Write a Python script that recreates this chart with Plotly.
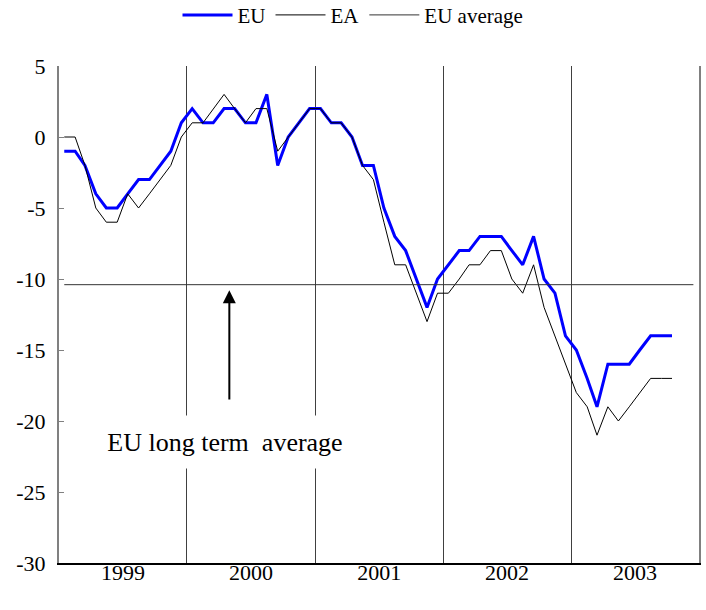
import plotly.graph_objects as go
import pandas as pd

# monthly balance values, Jan 1999 - Oct 2003
eu = [-1, -1, -2, -4, -5, -5, -4, -3, -3, -2, -1, 1,
      2, 1, 1, 2, 2, 1, 1, 3, -2, 0, 1, 2,
      2, 1, 1, 0, -2, -2, -5, -7, -8, -10, -12, -10,
      -9, -8, -8, -7, -7, -7, -8, -9, -7, -10, -11, -14,
      -15, -17, -19, -16, -16, -16, -15, -14, -14, -14]
ea = [0, 0, -2, -5, -6, -6, -4, -5, -4, -3, -2, 0,
      1, 1, 2, 3, 2, 1, 2, 2, -1, 0, 1, 2,
      2, 1, 1, 0, -2, -3, -6, -9, -9, -11, -13, -11,
      -11, -10, -9, -9, -8, -8, -10, -11, -9, -12, -14, -16,
      -18, -19, -21, -19, -20, -19, -18, -17, -17, -17]
eu_long_avg = -10.4
n_avg_months = 60

y_ticks = [5, 0, -5, -10, -15, -20, -25, -30]
y_tick_text = ["5", "0", "-5", "-10", "-15", "-20", "-25", "-30"]

months = pd.date_range("1999-01-01", periods=len(eu), freq="MS") + pd.Timedelta(days=15)
avg_months = pd.date_range("1999-01-01", periods=n_avg_months, freq="MS") + pd.Timedelta(days=15)
eu_average = [eu_long_avg] * n_avg_months

FONT = "Liberation Serif"

fig = go.Figure()

fig.add_trace(go.Scatter(x=months, y=eu, name="EU", mode="lines",
                         line=dict(color="#0000FF", width=3)))
fig.add_trace(go.Scatter(x=months, y=ea, name="EA", mode="lines",
                         line=dict(color="black", width=1)))
fig.add_trace(go.Scatter(x=avg_months, y=eu_average, name="EU average", mode="lines",
                         line=dict(color="#333333", width=1)))

# arrow pointing at the long term average
fig.add_annotation(x="2000-05-01", y=-10.8, ax="2000-05-01", ay=-18.6,
                   xref="x", yref="y", axref="x", ayref="y",
                   text="", showarrow=True, arrowhead=2, arrowsize=1.3,
                   arrowwidth=2, arrowcolor="black")
fig.add_annotation(x="2000-04-19", y=-21.45, xref="x", yref="y",
                   text="EU long term\u00a0 average", showarrow=False,
                   font=dict(family=FONT, size=26, color="black"),
                   bgcolor="white", width=250, height=50)

fig.update_layout(
    width=706, height=610,
    margin=dict(l=59, r=7, t=66, b=47, autoexpand=False),
    paper_bgcolor="white", plot_bgcolor="white",
    font=dict(family=FONT, size=22, color="black"),
    showlegend=True,
    legend=dict(orientation="h", xref="container", yref="container",
                x=0.5, xanchor="center", y=0.975, yanchor="middle",
                itemwidth=50,
                font=dict(family=FONT, size=21), bgcolor="rgba(0,0,0,0)"),
)

fig.update_xaxes(
    type="date", range=["1999-01-01", "2004-01-01"],
    dtick="M12", tick0="1999-01-01", tickformat="%Y", ticklabelmode="period",
    showgrid=True, gridcolor="#404040", gridwidth=1,
    showline=True, linecolor="black", linewidth=2,
    ticks="", zeroline=False, automargin=False, ticklabelstandoff=-11,
)
fig.update_yaxes(
    range=[-30, 5], tickvals=y_ticks, ticktext=y_tick_text,
    showgrid=False, zeroline=False,
    showline=True, linecolor="#808080", linewidth=2, mirror=True,
    ticks="inside", ticklen=5, tickcolor="#808080", automargin=False,
    ticklabelstandoff=7,
)

# drop the default 8px body margin so the figure sits at the page corner
fig.write_html("out.html", config={"displayModeBar": False},
               post_script="document.body.style.margin='0px';")
